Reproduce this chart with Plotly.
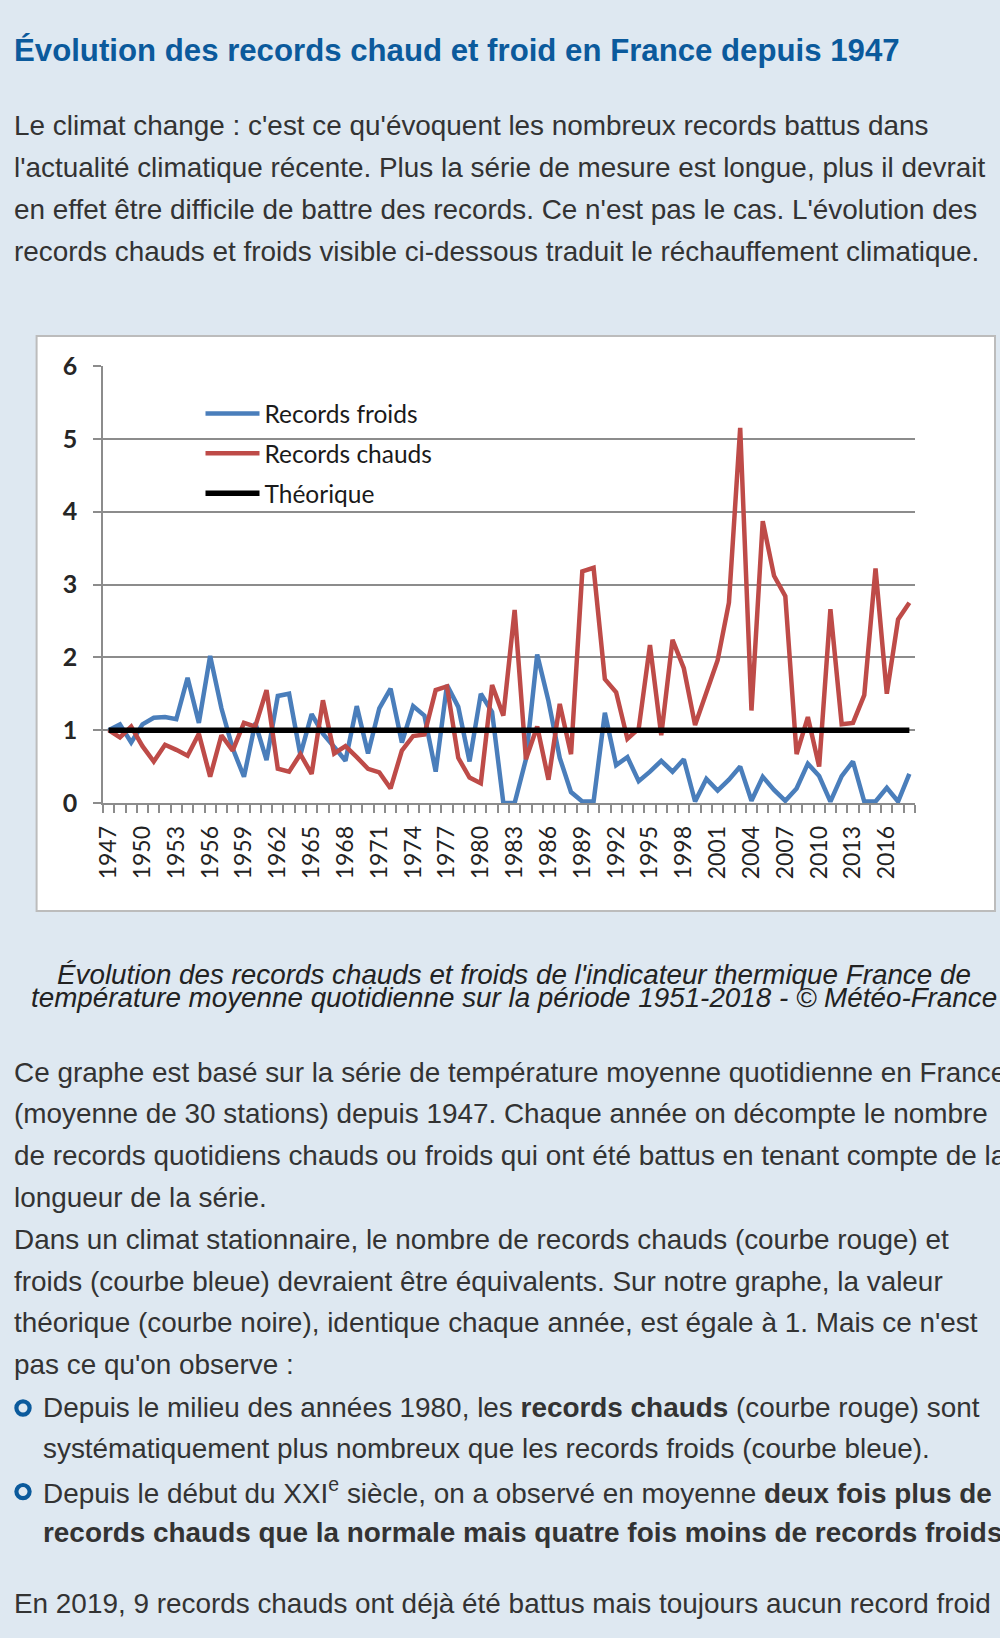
import plotly.graph_objects as go

W, H = 1000, 1638

years = list(range(1947, 2019))

records_froids = [
    1.0, 1.08, 0.83, 1.08, 1.17, 1.18, 1.15, 1.72,
    1.1, 2.02, 1.3, 0.75, 0.36, 1.1, 0.59, 1.47,
    1.5, 0.66, 1.22, 0.95, 0.77, 0.58, 1.33, 0.68,
    1.3, 1.57, 0.83, 1.33, 1.2, 0.43, 1.62, 1.32,
    0.57, 1.5, 1.25, 0.0, 0.0, 0.6, 2.04, 1.4,
    0.62, 0.15, 0.02, 0.02, 1.24, 0.52, 0.63, 0.3,
    0.43, 0.58, 0.43, 0.6, 0.02, 0.33, 0.17, 0.32,
    0.5, 0.03, 0.36, 0.18, 0.03, 0.2, 0.54, 0.37,
    0.02, 0.37, 0.57, 0.02, 0.02, 0.21, 0.02, 0.4,
]

records_chauds = [
    1.0, 0.9, 1.05, 0.78, 0.57, 0.8, 0.73, 0.65,
    0.95, 0.36, 0.93, 0.72, 1.1, 1.05, 1.55, 0.47,
    0.43, 0.67, 0.4, 1.41, 0.68, 0.78, 0.63, 0.47,
    0.42, 0.2, 0.72, 0.92, 0.94, 1.55, 1.6, 0.62,
    0.35, 0.27, 1.62, 1.2, 2.65, 0.6, 1.05, 0.32,
    1.36, 0.67, 3.18, 3.23, 1.7, 1.52, 0.88, 1.02,
    2.17, 0.93, 2.24, 1.85, 1.07, 1.52, 1.96, 2.75,
    5.15, 1.27, 3.87, 3.12, 2.84, 0.67, 1.18, 0.5,
    2.66, 1.08, 1.1, 1.48, 3.22, 1.5, 2.52, 2.75,
]

# Valeur théorique : identique chaque année, égale à 1
theorique = [1.0 for _ in years]

x_label_years = years[::3]
y_ticks = [0, 1, 2, 3, 4, 5, 6]

series_names = ["Records froids", "Records chauds", "Théorique"]
series_colors = ["#4a7ebb", "#be4b48", "#000000"]

title_text = "Évolution des records chaud et froid en France depuis 1947"
intro_lines = [
    "Le climat change : c'est ce qu'évoquent les nombreux records battus dans",
    "l'actualité climatique récente. Plus la série de mesure est longue, plus il devrait",
    "en effet être difficile de battre des records. Ce n'est pas le cas. L'évolution des",
    "records chauds et froids visible ci-dessous traduit le réchauffement climatique.",
]
caption_lines = [
    "Évolution des records chauds et froids de l'indicateur thermique France de",
    "température moyenne quotidienne sur la période 1951-2018 - © Météo-France",
]
body_lines = [
    "Ce graphe est basé sur la série de température moyenne quotidienne en France",
    "(moyenne de 30 stations) depuis 1947. Chaque année on décompte le nombre",
    "de records quotidiens chauds ou froids qui ont été battus en tenant compte de la",
    "longueur de la série.",
    "Dans un climat stationnaire, le nombre de records chauds (courbe rouge) et",
    "froids (courbe bleue) devraient être équivalents. Sur notre graphe, la valeur",
    "théorique (courbe noire), identique chaque année, est égale à 1. Mais ce n'est",
    "pas ce qu'on observe :",
]
bullet_lines = [
    ("Depuis le milieu des années 1980, les <b>records chauds</b> (courbe rouge) sont", True),
    ("systématiquement plus nombreux que les records froids (courbe bleue).", False),
    ("Depuis le début du XXI<sup>e</sup> siècle, on a observé en moyenne <b>deux fois plus de</b>", True),
    ("<b>records chauds que la normale mais quatre fois moins de records froids</b>", False),
]
final_line = "En 2019, 9 records chauds ont déjà été battus mais toujours aucun record froid"

BG = "#dee8f1"
BLUE_TXT = "#0b5a9c"
TXT = "#333333"
BODY_FONT = "Liberation Sans, Arial, sans-serif"
CHART_FONT = "Lato, Calibri, sans-serif"
GRID = "#8c8c8c"


def pxx(x):
    return x / W


def pxy(y):
    return 1 - y / H


fig = go.Figure()
for name, vals, col, lw in zip(series_names, [records_froids, records_chauds, theorique],
                               series_colors, [4.5, 4.5, 5.5]):
    fig.add_trace(go.Scatter(
        x=years, y=vals, mode="lines", name=name, legendgroup=name,
        line=dict(color=col, width=lw),
    ))

annotations = []


def add_text(text, x, y, size=27.9, color=TXT, family=BODY_FONT, xanchor="left", italic=False):
    if italic:
        text = "<i>" + text + "</i>"
    annotations.append(dict(
        text=text, x=pxx(x), y=pxy(y), xref="paper", yref="paper",
        xanchor=xanchor, yanchor="middle", showarrow=False,
        font=dict(family=family, size=size, color=color),
    ))


add_text("<b>" + title_text + "</b>", 12, 50, size=31.2, color=BLUE_TXT)
for i, line in enumerate(intro_lines):
    add_text(line, 12, 126 + 41.8 * i)
for i, line in enumerate(caption_lines):
    add_text(line, 514, 974 + 24 * i, size=27.8, xanchor="center", italic=True, color="#222222")
for i, line in enumerate(body_lines):
    add_text(line, 12, 1072 + 41.8 * i)
shapes = []
for i, (line, has_bullet) in enumerate(bullet_lines):
    yy = 1407 + 41.8 * i
    add_text(line, 41, yy)
    if has_bullet:
        r = 6.6
        shapes.append(dict(
            type="circle", xref="paper", yref="paper",
            x0=pxx(23 - r), x1=pxx(23 + r), y0=pxy(yy + 1 + r), y1=pxy(yy + 1 - r),
            line=dict(color=BLUE_TXT, width=4.2), fillcolor="rgba(0,0,0,0)",
        ))
add_text(final_line, 12, 1603)

# chart box
shapes.insert(0, dict(
    type="rect", xref="paper", yref="paper", layer="below",
    x0=pxx(36.6), x1=pxx(995), y0=pxy(911), y1=pxy(336),
    fillcolor="white", line=dict(color="#bcbcbc", width=2),
))

fig.update_layout(
    width=W, height=H,
    margin=dict(l=0, r=0, t=0, b=0, pad=0, autoexpand=False),
    paper_bgcolor=BG, plot_bgcolor="white",
    showlegend=True,
    legend=dict(
        x=pxx(200.5), y=pxy(391), xanchor="left", yanchor="top",
        bgcolor="rgba(0,0,0,0)", font=dict(family=CHART_FONT, size=24.5, color="#1a1a1a"),
        tracegroupgap=5, itemwidth=54, traceorder="grouped",
    ),
    annotations=annotations,
    shapes=shapes,
    xaxis=dict(
        domain=[pxx(103), pxx(915)], range=[1946.5, 2018.5], automargin=False,
        tickmode="array", tickvals=x_label_years, ticktext=[str(v) for v in x_label_years],
        tickangle=-90, ticks="", ticklabelstandoff=12,
        tickfont=dict(family=CHART_FONT, size=23, color="#222222"),
        showgrid=False, zeroline=False, showline=True, linecolor=GRID, linewidth=1.5,
        minor=dict(tick0=1946.5, dtick=1, ticks="outside", ticklen=8, tickcolor=GRID,
                   tickwidth=1.5, showgrid=False),
        fixedrange=True,
    ),
    yaxis=dict(
        domain=[pxy(803), pxy(366)], range=[0, 6], automargin=False,
        tickmode="array", tickvals=y_ticks,
        ticks="outside", ticklen=8, tickcolor=GRID, tickwidth=1.5, ticklabelstandoff=11,
        tickfont=dict(family=CHART_FONT, size=25, color="#262626", weight="bold"),
        showgrid=True, gridcolor=GRID, gridwidth=1.5,
        zeroline=False, showline=True, linecolor=GRID, linewidth=1.5,
        fixedrange=True,
    ),
)

fig.write_html(
    "out.html",
    config={"displayModeBar": False},
    post_script="document.body.style.margin='0px';document.body.style.overflow='hidden';"
                "document.body.style.background='" + BG + "';",
)
